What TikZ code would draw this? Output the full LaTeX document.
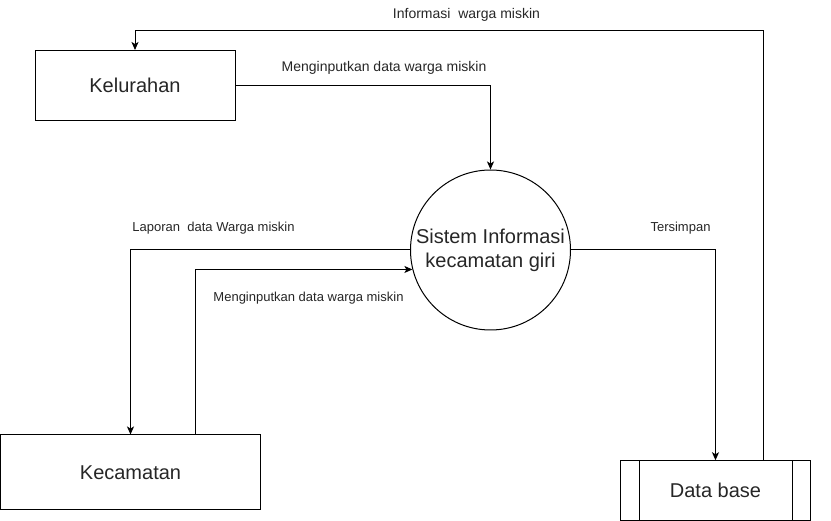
\documentclass[tikz,border=0pt]{standalone}
\usepackage{fontspec}
\setmainfont{Liberation Sans}
\usetikzlibrary{arrows.meta,calc}
\tikzset{
  box/.style={draw,line width=1pt,rectangle,inner sep=0pt,text=black!85,font=\fontsize{20}{24}\selectfont},
  proc/.style={draw,line width=1pt,circle,minimum size=160pt,inner sep=0pt,align=center,text=black!85,font=\fontsize{20}{24}\selectfont},
  lbl/.style={inner sep=0pt,text=black!85,font=\fontsize{13}{15}\selectfont},
  lblb/.style={lbl,font=\fontsize{14}{16}\selectfont},
  arr/.style={line width=1pt,-{Stealth[length=8pt,width=7pt,inset=2pt]}},
  conn/.style={line width=1pt}
}
\begin{document}
\begin{tikzpicture}[x=1pt,y=-1pt]
\useasboundingbox (0,0) rectangle (831,521);
\node[box,minimum width=200pt,minimum height=70pt] (kel) at (135,85.5) {Kelurahan};
\node[box,minimum width=260pt,minimum height=75pt] (kc) at (130.5,472.5) {Kecamatan};
\node[box,minimum width=190pt,minimum height=59.5pt] (db) at (715.5,490.5) {Data base};
\draw[conn] ([xshift=19pt]db.north west) -- ([xshift=19pt]db.south west);
\draw[conn] ([xshift=-19pt]db.north east) -- ([xshift=-19pt]db.south east);
\node[proc] (s) at (490.5,250) {Sistem Informasi\\kecamatan giri};
\coordinate (tr) at (763,30.5);
\draw[arr] (kel.east) -| (s.north);
\draw[arr] (s.west) -| (kc.north);
\draw[arr] ([xshift=65pt]kc.north) |- (s.194.5);
\draw[arr] (s.east) -| (db.north);
\draw[arr] (db.north -| tr) -- (tr) -| (kel.north);
\node[lblb] (l1) at (466.5,15) {Informasi\ \ warga miskin};
\node[lblb] (l2) at (384,68) {Menginputkan data warga miskin};
\node[lbl] (l3) at (213.5,228) {Laporan\ \ data Warga miskin};
\node[lbl] (l4) at (308.5,298) {Menginputkan data warga miskin};
\node[lbl] (l5) at (680.5,228) {Tersimpan};
\end{tikzpicture}
\end{document}
